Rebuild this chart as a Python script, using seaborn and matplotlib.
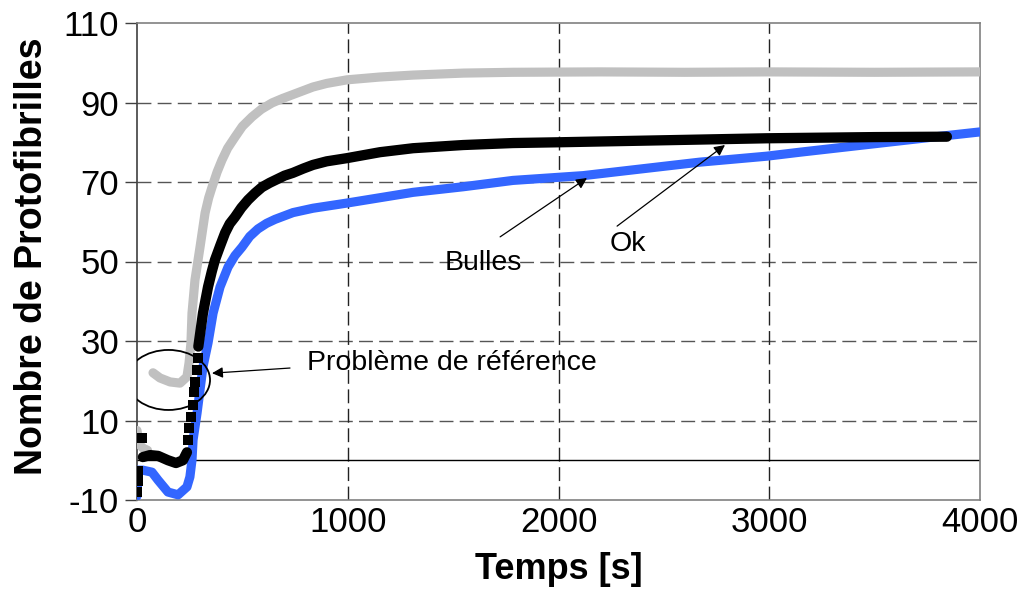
import numpy as np
import pandas as pd
import matplotlib
matplotlib.use('Agg')
import matplotlib.pyplot as plt
from matplotlib.patches import Ellipse
import seaborn as sns

# --- data ---
# grey series ("Problème de référence"), two pieces with a gap
gris1_t = [0, 10, 30, 50]
gris1_v = [7.5, 4.0, 3.0, 2.5]
gris2_t = [76, 109, 157, 204, 237, 247, 256, 261, 275, 299, 323, 340, 356, 380, 403,
           430, 465, 500, 546, 590, 641, 690, 735, 790, 835, 900, 996, 1150, 1310,
           1550, 1784, 2197, 2600, 2989, 3500, 4000]
gris2_v = [22.0, 20.7, 19.7, 19.4, 21.0, 24.5, 29.5, 37.0, 45.3, 53.6, 62.2, 66.0,
           68.7, 72.5, 75.5, 78.5, 81.3, 84.0, 86.4, 88.3, 89.9, 91.0, 91.9, 93.0,
           93.9, 94.8, 95.7, 96.4, 96.9, 97.4, 97.6, 97.7, 97.6, 97.7, 97.6, 97.7]

# black series ("Ok")
noir_pts_t = [0, 3, 5, 24, 242, 247, 256, 266, 270, 275, 285, 289]
noir_pts_v = [-8.0, -5.2, -2.7, 5.6, 5.1, 8.1, 10.9, 13.9, 17.2, 19.7, 22.7, 25.7]
noir1_t = [28, 62, 100, 147, 185, 218, 237]
noir1_v = [0.8, 1.3, 1.1, 0.0, -0.7, 0.0, 2.0]
noir2_t = [291, 313, 337, 355, 370, 395, 418, 440, 465, 495, 527, 560, 593, 630, 669,
           700, 740, 790, 835, 900, 996, 1153, 1310, 1547, 1784, 2007, 2500, 2989,
           3500, 3843]
noir2_v = [28.6, 37.0, 43.6, 47.5, 50.4, 54.0, 57.2, 59.5, 61.2, 63.5, 65.5, 67.2,
           68.7, 69.8, 70.8, 71.6, 72.3, 73.4, 74.3, 75.2, 76.0, 77.5, 78.5, 79.3,
           79.8, 80.0, 80.5, 81.0, 81.3, 81.4]

# blue series ("Bulles")
bleu_t = [0, 5, 28, 71, 100, 147, 195, 237, 251, 261, 266, 285, 299, 313, 337, 361,
          394, 432, 465, 498, 535, 574, 615, 655, 700, 740, 835, 996, 1310, 1547,
          1784, 2117, 2671, 2989, 3146, 3777, 4000]
bleu_v = [-9.0, -2.5, -2.5, -3.0, -5.0, -8.0, -8.7, -6.7, -4.2, 0.1, 5.1, 11.9, 17.7,
          23.5, 29.5, 37.0, 43.6, 48.6, 51.5, 53.6, 56.3, 58.2, 59.6, 60.6, 61.5,
          62.3, 63.4, 64.7, 67.4, 68.8, 70.4, 71.6, 75.0, 76.5, 77.5, 81.3, 82.6]

x_ticks = [0, 1000, 2000, 3000, 4000]
y_ticks = [-10, 10, 30, 50, 70, 90, 110]

segments = {
    'gris1': ('gris', gris1_t, gris1_v),
    'gris2': ('gris', gris2_t, gris2_v),
    'bleu': ('bleu', bleu_t, bleu_v),
    'noir1': ('noir', noir1_t, noir1_v),
    'noir2': ('noir', noir2_t, noir2_v),
}
couleurs = {'gris': '#C0C0C0', 'bleu': '#3366FF', 'noir': '#000000'}
epaisseur = {'gris': 6.6, 'bleu': 6.6, 'noir': 7.4}

sns.set_style('white')
plt.rcParams['font.family'] = ['Liberation Sans', 'DejaVu Sans']
plt.rcParams['axes.unicode_minus'] = False
plt.rcParams['text.color'] = 'black'
plt.rcParams['axes.labelcolor'] = 'black'
plt.rcParams['xtick.color'] = 'black'
plt.rcParams['ytick.color'] = 'black'

fig = plt.figure(figsize=(10.24, 5.91), dpi=100)
ax = fig.add_axes([137 / 1024, 1 - 500 / 591, 843 / 1024, 477 / 591])

# draw grey, then blue, then black on top
for nom, (serie, t, v) in segments.items():
    df = pd.DataFrame({'t': t, 'v': v})
    sns.lineplot(data=df, x='t', y='v', ax=ax, color=couleurs[serie],
                 lw=epaisseur[serie], sort=False, estimator=None,
                 zorder={'gris': 3, 'bleu': 4, 'noir': 5}[serie])

pts = pd.DataFrame({'t': noir_pts_t, 'v': noir_pts_v})
sns.scatterplot(data=pts, x='t', y='v', ax=ax, marker='s', s=46, color='black',
                linewidth=0, zorder=6)

ax.set_xlim(0, 4000)
ax.set_ylim(-10, 110)
ax.set_xticks(x_ticks)
ax.set_yticks(y_ticks)

# grid like the spreadsheet chart
for yv in [10, 30, 50, 70, 90]:
    ax.axhline(yv, color='#555555', lw=1.0, dashes=(10, 4.5), zorder=1)
for xv in [1000, 2000, 3000]:
    ax.axvline(xv, color='#222222', lw=1.0, dashes=(10, 4), zorder=1)
ax.axhline(0, color='black', lw=1.0, zorder=1)

for s in ['top', 'right', 'bottom']:
    ax.spines[s].set_color('#808080')
    ax.spines[s].set_linewidth(1.2)
ax.spines['left'].set_color('#404040')
ax.spines['left'].set_linewidth(1.2)

ax.tick_params(axis='y', direction='out', length=9, width=1, color='#404040',
               labelsize=25, pad=4, left=True)
ax.tick_params(axis='x', length=0, labelsize=25, pad=4)

ax.set_xlabel('Temps [s]', fontsize=26, fontweight='bold')
ax.set_ylabel('Nombre de Protofibrilles', fontsize=27, fontweight='bold')
ax.xaxis.set_label_coords(0.5, -0.11)
ax.yaxis.set_label_coords(-0.103, 0.51)

# annotations
ax.add_patch(Ellipse((149.5, 20.2), 394, 15.1, fill=False, color='black', lw=1.3,
                     zorder=7))
fleche = dict(arrowstyle='-|>', color='black', lw=0.9, mutation_scale=16,
              shrinkA=0, shrinkB=0)
ax.annotate('', xy=(356, 21.9), xytext=(726, 23.2), arrowprops=fleche, zorder=7)
ax.text(807, 24.5, 'Problème de référence', fontsize=20.5, va='center', ha='left')
ax.annotate('', xy=(2135, 71.0), xytext=(1723, 56.2), arrowprops=fleche, zorder=7)
ax.text(1461, 49.6, 'Bulles', fontsize=20.5, va='center', ha='left')
ax.annotate('', xy=(2790, 79.3), xytext=(2278, 58.9), arrowprops=fleche, zorder=7)
ax.text(2244, 54.4, 'Ok', fontsize=20.5, va='center', ha='left')

fig.savefig('out.png', dpi=100)
